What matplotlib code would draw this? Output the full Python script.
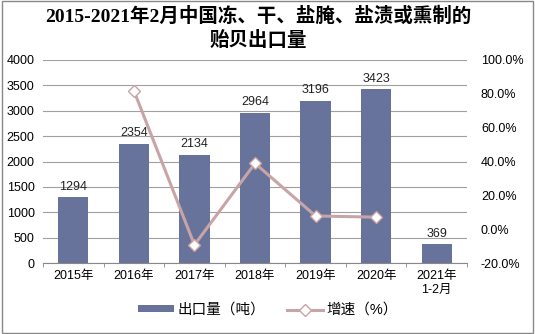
import matplotlib
matplotlib.use("Agg")
import matplotlib.pyplot as plt
import numpy as np

plt.rcParams['font.family'] = ['Liberation Sans', 'Noto Sans CJK SC']

years = ['2015年', '2016年', '2017年', '2018年', '2019年', '2020年', '2021年\n1-2月']
export = [1294, 2354, 2134, 2964, 3196, 3423, 369]
growth = [None, 81.9, -9.3, 38.9, 7.8, 7.1, None]

bar_color = '#67739A'
line_color = '#C9A4A6'

fig = plt.figure(figsize=(5.35, 3.34), dpi=100)
ax = fig.add_axes([43 / 535, 1 - 263 / 334, 424 / 535, 203 / 334])
x = np.arange(len(years))

bars = ax.bar(x, export, width=0.5, color=bar_color, zorder=2, label='出口量（吨）')
for xi, v in zip(x, export):
    ax.text(xi, v + 90, str(v), ha='center', va='bottom', fontsize=9, color='#222222')

ax.set_xlim(-0.5, len(years) - 0.5)
ax.set_ylim(0, 4000)
ax.set_yticks(range(0, 4001, 500))
ax.yaxis.grid(True, color='#A0A0A0', linewidth=0.8, zorder=0)
ax.set_xticks(x)
ax.set_xticklabels(years, fontsize=9)
ax.set_xticks(np.arange(-0.5, len(years), 1), minor=True)
ax.tick_params(axis='x', which='major', length=0, pad=5)
ax.tick_params(axis='x', which='minor', length=3, color='#888888')
ax.tick_params(axis='y', length=0, labelsize=9, pad=6)
for s in ['top', 'right', 'left']:
    ax.spines[s].set_visible(False)
ax.spines['bottom'].set_color('#888888')

ax2 = ax.twinx()
gx = [xi for xi, g in zip(x, growth) if g is not None]
gy = [g for g in growth if g is not None]
ln, = ax2.plot(gx, gy, color=line_color, linewidth=2.2, marker='D', markersize=6,
               markerfacecolor='white', markeredgecolor=line_color, markeredgewidth=1,
               zorder=3, label='增速（%）')
ax2.set_ylim(-20, 100)
ax2.set_yticks(range(-20, 101, 20))
ax2.set_yticklabels(['%.1f%%' % v for v in range(-20, 101, 20)])
ax2.tick_params(axis='y', length=0, labelsize=9, pad=10)
for s in ['top', 'right', 'left', 'bottom']:
    ax2.spines[s].set_visible(False)

fig.text(0.482, 0.98, '2015-2021年2月中国冻、干、盐腌、盐渍或熏制的\n贻贝出口量',
         ha='center', va='top', fontsize=14, fontweight='bold', linespacing=1.35,
         family=['Liberation Serif', 'Noto Sans CJK SC'])

fig.legend([bars, ln], ['出口量（吨）', '增速（%）'], loc='center', bbox_to_anchor=(0.5, 0.072),
           ncol=2, frameon=False, fontsize=10.5, handlelength=2.5, handleheight=0.4,
           handletextpad=0.2, columnspacing=1.5)

border = plt.Rectangle((0.003, 0.003), 0.994, 0.994, transform=fig.transFigure,
                       fill=False, edgecolor='#888888', linewidth=1)
fig.patches.append(border)

fig.savefig('out.png', dpi=100)
